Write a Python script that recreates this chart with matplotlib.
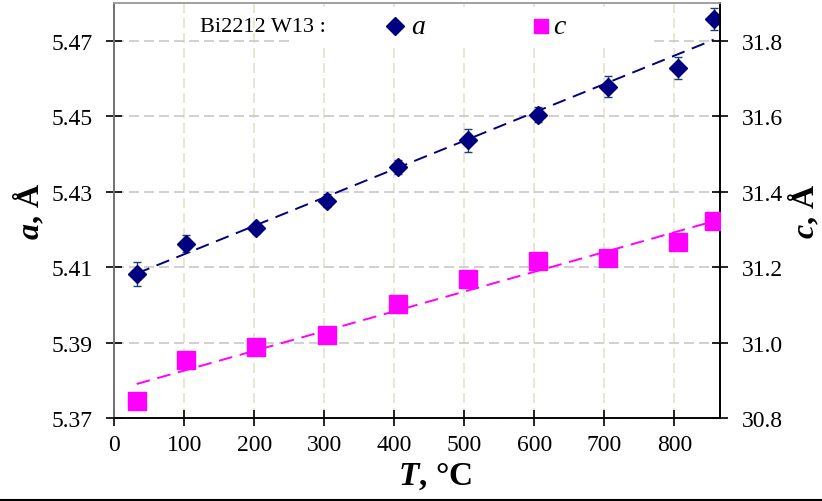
import numpy as np
import matplotlib
matplotlib.use("Agg")
import matplotlib.pyplot as plt
from matplotlib.lines import Line2D

# %%
T = [32, 103, 203, 304, 405, 505, 605, 705, 805, 856]
a_vals = [5.4083, 5.4163, 5.4203, 5.4277, 5.4365, 5.4436, 5.4504, 5.4578, 5.4628, 5.4758]
a_err = [0.0032, 0.0022, 0.0015, 0.0018, 0.0018, 0.0030, 0.0020, 0.0028, 0.0028, 0.0030]
c_vals = [30.847, 30.954, 30.988, 31.020, 31.102, 31.168, 31.217, 31.224, 31.266, 31.324]

x_ticks = [0, 100, 200, 300, 400, 500, 600, 700, 800]
a_ticks = [5.37, 5.39, 5.41, 5.43, 5.45, 5.47]
c_ticks = [30.8, 31.0, 31.2, 31.4, 31.6, 31.8]

navy = "#000080"
magenta = "#ff00ff"
plt.rcParams["font.family"] = ["Liberation Serif", "DejaVu Serif"]
plt.rcParams["mathtext.fontset"] = "custom"
plt.rcParams["mathtext.rm"] = "Liberation Serif:bold"
plt.rcParams["mathtext.it"] = "Liberation Serif:italic:bold"
plt.rcParams["mathtext.bf"] = "Liberation Serif:bold"
plt.rcParams["mathtext.bfit"] = "Liberation Serif:italic:bold"

# %%
fig = plt.figure(figsize=(8.22, 5.02), dpi=100)
ax = fig.add_axes([114.3 / 822, (502 - 419.4) / 502, (720 - 114.3) / 822, (419.4 - 4) / 502])
ax2 = ax.twinx()

ax.set_xlim(0, 865)
ax.set_ylim(5.37, 5.48)
ax2.set_ylim(30.8, 31.9)

ax.set_xticks(x_ticks)
ax.set_yticks(a_ticks)
ax.set_yticklabels([f"{v:.2f}" for v in a_ticks])
ax2.set_yticks(c_ticks)
ax2.set_yticklabels([f"{v:.1f}" for v in c_ticks])

ax.grid(axis="y", color="#c8c8c8", linestyle=(0, (6, 3)), linewidth=1.2)
ax.grid(axis="x", color="#e6e1cc", linestyle=(0, (6, 3)), linewidth=1.2)
ax.set_axisbelow(True)

for a_ in (ax, ax2):
    a_.tick_params(direction="inout", length=11, width=1.2, labelsize=17)
ax.tick_params(axis="x", pad=6)
ax.tick_params(axis="y", pad=10)
ax2.tick_params(axis="y", pad=10)

ax.spines["top"].set_color("#a0a0a0")
ax.spines["left"].set_color("#707070")
ax.spines["bottom"].set_color("#222222")
ax2.spines["top"].set_color("#a0a0a0")
ax2.spines["left"].set_color("#707070")
ax2.spines["right"].set_color("black")
for s in list(ax.spines.values()) + list(ax2.spines.values()):
    s.set_linewidth(1.2)

# trend lines
fa = np.polyfit(T, a_vals, 1)
fc = np.polyfit(T, c_vals, 1)
tt = np.array([T[0], T[-1]])
ax.plot(tt, np.polyval(fa, tt), color=navy, linestyle=(0, (7, 4)), linewidth=1.4, zorder=3)
ax2.plot(tt, np.polyval(fc, tt), color=magenta, linestyle=(0, (7, 4)), linewidth=1.4, zorder=3)

ax.errorbar(T, a_vals, yerr=a_err, fmt="none", ecolor="#1f3f6f", elinewidth=1, capsize=3, capthick=1, zorder=4)
ax.plot(T, a_vals, linestyle="none", marker="D", markersize=9.5, color=navy, zorder=5)
ax2.plot(T, c_vals, linestyle="none", marker="s", markersize=13.5, color=magenta, zorder=5)

ax.set_xlabel(r"$\mathbfit{T}$, °C", fontsize=24, fontweight="bold")
ax.xaxis.set_label_coords((435 - 114.3) / (720 - 114.3), -(461 - 419.4) / 415.4)
ax.set_ylabel(r"$\mathbfit{a}$, Å", fontsize=23, fontweight="bold")
ax.yaxis.set_label_coords(-(114.3 - 46) / 605.7, 0.5)
ax2.set_ylabel(r"$\mathbfit{c}$, Å", fontsize=23, fontweight="bold", rotation=90)
ax2.yaxis.set_label_coords(1 + (787 - 720) / 605.7, 0.5)

# legend box
box = plt.Rectangle((292 / 822, (502 - 45) / 502), (650 - 292) / 822, 37 / 502,
                    transform=fig.transFigure, facecolor="white", edgecolor="none", zorder=2)
ax.add_patch(box)
box.set_transform(fig.transFigure)
fig.text(200 / 822, 1 - 27 / 502, "Bi2212 W13 :", fontsize=16, va="center", ha="left")
fig.add_artist(Line2D([395 / 822], [1 - 27 / 502], marker="D", markersize=9, color=navy, linestyle="none"))
fig.text(411 / 822, 1 - 28 / 502, "a", fontsize=20, style="italic", va="center", ha="left")
fig.add_artist(Line2D([541 / 822], [1 - 27 / 502], marker="s", markersize=10.5, color=magenta, linestyle="none"))
fig.text(553 / 822, 1 - 28 / 502, "c", fontsize=20, style="italic", va="center", ha="left")

fig.add_artist(Line2D([0, 1], [1.5 / 502, 1.5 / 502], color="black", linewidth=1.5))

fig.savefig("out.png", dpi=100)
